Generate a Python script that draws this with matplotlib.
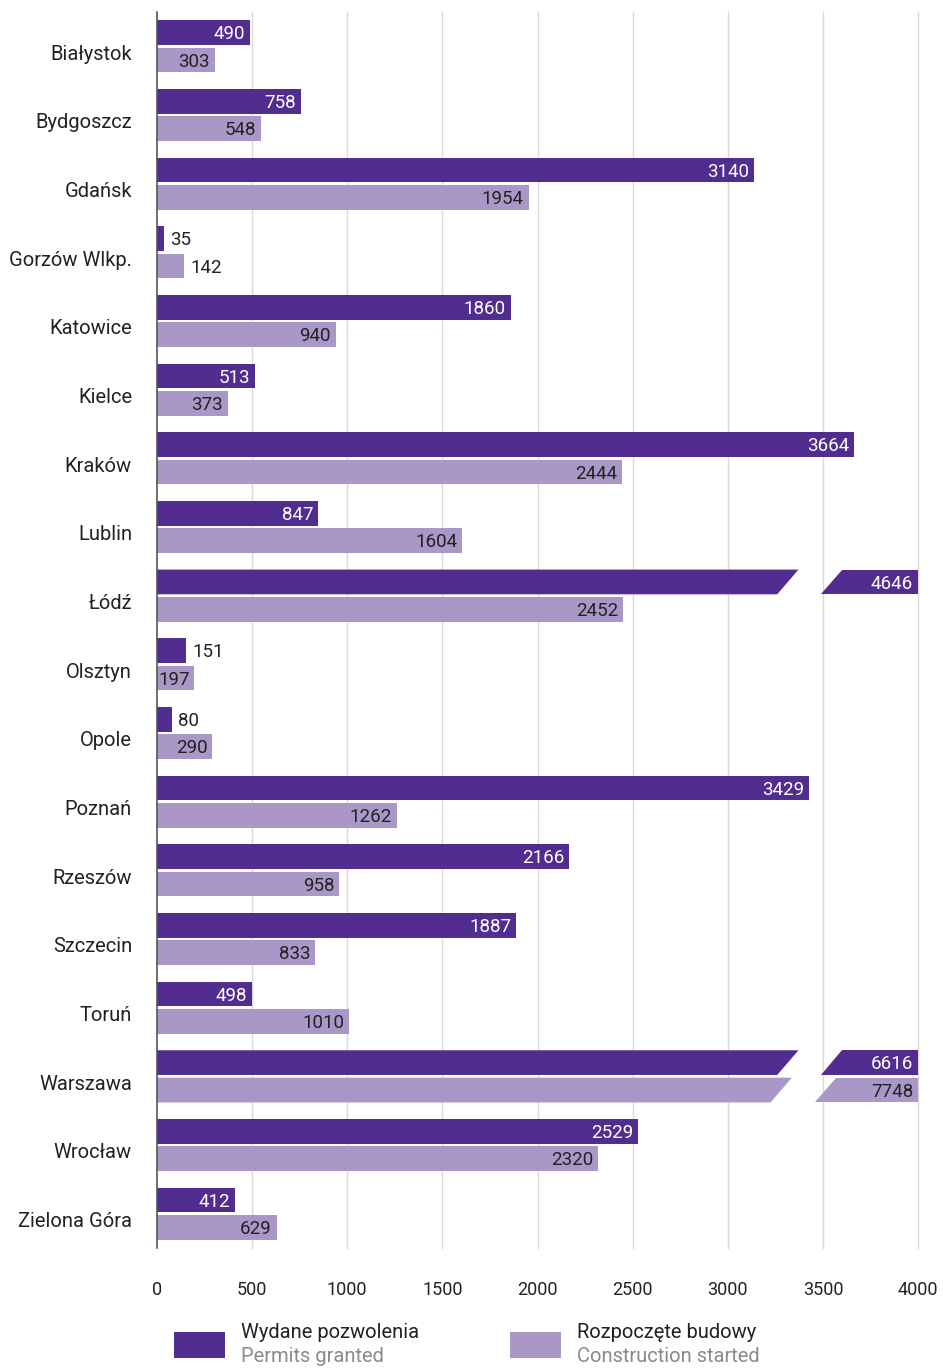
import matplotlib
matplotlib.use("Agg")
import matplotlib.pyplot as plt
import matplotlib.transforms as mtransforms
from matplotlib.patches import Polygon, Rectangle

plt.rcParams["font.family"] = ["Roboto", "DejaVu Sans"]

cities = ["Białystok", "Bydgoszcz", "Gdańsk", "Gorzów Wlkp.", "Katowice", "Kielce",
          "Kraków", "Lublin", "Łódź", "Olsztyn", "Opole", "Poznań", "Rzeszów",
          "Szczecin", "Toruń", "Warszawa", "Wrocław", "Zielona Góra"]
permits = [490, 758, 3140, 35, 1860, 513, 3664, 847, 4646, 151, 80, 3429, 2166,
           1887, 498, 6616, 2529, 412]
started = [303, 548, 1954, 142, 940, 373, 2444, 1604, 2452, 197, 290, 1262, 958,
           833, 1010, 7748, 2320, 629]
x_ticks = [0, 500, 1000, 1500, 2000, 2500, 3000, 3500, 4000]
legend_pl = ["Wydane pozwolenia", "Rozpoczęte budowy"]
legend_en = ["Permits granted", "Construction started"]

DARK = "#512D8F"
LIGHT = "#A897C7"
TEXT = "#222222"
XMAX = 4000

fig = plt.figure(figsize=(9.43, 13.69), dpi=100)
ax = fig.add_axes([157 / 943, 1 - 1248 / 1369, (918 - 157) / 943, (1248 - 12) / 1369])

h = 0.36
off = 0.2
gap_w, slant = 231, 112


def draw_series(values, offset, color, txt_color, brk):
    for i, v in enumerate(values):
        yc = i + offset
        yb, yt = yc + h / 2, yc - h / 2
        if v > XMAX:
            # broken bar: two slanted pieces with a gap
            ax.add_patch(Polygon([(0, yb), (brk, yb), (brk + slant, yt), (0, yt)],
                                 closed=True, color=color, lw=0, zorder=2))
            ax.add_patch(Polygon([(brk + gap_w, yb), (XMAX, yb), (XMAX, yt),
                                  (brk + gap_w + slant, yt)],
                                 closed=True, color=color, lw=0, zorder=2))
            end = XMAX
        else:
            ax.barh(yc, v, height=h, color=color, lw=0, zorder=2)
            end = v
        if v >= 190:
            ax.annotate(str(v), (end, yc), xytext=(-3.5, -1.2), textcoords="offset points",
                        ha="right", va="center", fontsize=13.5, color=txt_color, zorder=3)
        else:
            ax.annotate(str(v), (end, yc), xytext=(4.5, -1.2), textcoords="offset points",
                        ha="left", va="center", fontsize=13.5, color=TEXT, zorder=3)


draw_series(permits, -off, DARK, "white", 3260)
draw_series(started, off, LIGHT, TEXT, 3225)

ax.set_xlim(0, XMAX)
ax.set_ylim(len(cities) - 0.5, -0.5)
ax.set_yticks(range(len(cities)))
ax.set_yticklabels(cities, fontsize=14.5, color=TEXT)
ax.set_xticks(x_ticks)
ax.set_xticklabels([str(t) for t in x_ticks], fontsize=13, color=TEXT)
ax.tick_params(axis="both", length=0)
ax.tick_params(axis="x", pad=24)
ax.tick_params(axis="y", pad=18)
shift = mtransforms.ScaledTranslation(0, -0.06, fig.dpi_scale_trans)
for lab in ax.get_yticklabels():
    lab.set_transform(lab.get_transform() + shift)
for t in x_ticks[1:]:
    ax.axvline(t, color="#d9d9d9", lw=1, zorder=1, clip_on=False)
for s in ("top", "right", "bottom"):
    ax.spines[s].set_visible(False)
ax.spines["left"].set_color("#555555")
ax.spines["left"].set_linewidth(1.2)
ax.spines["left"].set_zorder(4)

# legend
for (x0, color), pl, en in zip([(174, DARK), (510, LIGHT)], legend_pl, legend_en):
    fig.patches.append(Rectangle((x0 / 943, 1 - 1358 / 1369), 51 / 943, 26 / 1369,
                                 transform=fig.transFigure, color=color, lw=0))
    fig.text((x0 + 67) / 943, 1 - 1332 / 1369, pl, fontsize=14.5, color=TEXT,
             ha="left", va="center")
    fig.text((x0 + 67) / 943, 1 - 1357 / 1369, en, fontsize=14.5, color="#8a8a8a",
             ha="left", va="center")

fig.savefig("out.png", dpi=100)
